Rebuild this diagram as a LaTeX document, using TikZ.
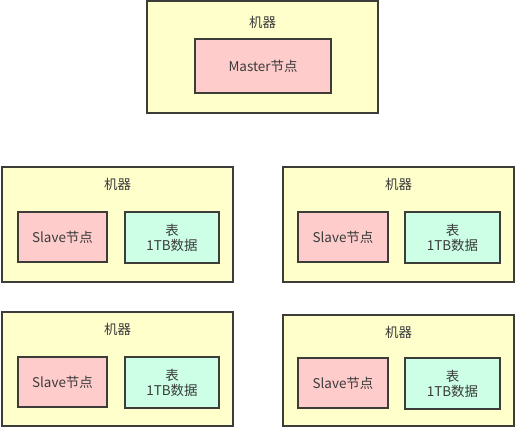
\documentclass[tikz,border=0pt]{standalone}
\usepackage{fontspec}
\setmainfont{Noto Sans CJK SC}
\begin{document}
\begin{tikzpicture}[x=1bp,y=-1bp,
  every node/.style={font=\fontsize{13.5}{15}\selectfont, text=txt, inner sep=0pt, align=center},
  machine/.style={draw=edge, line width=1.6bp, fill=machfill},
  slavebox/.style={draw=edge, line width=1.6bp, fill=slavefill},
  tablebox/.style={draw=edge, line width=1.6bp, fill=tabfill}]
\definecolor{edge}{HTML}{3C3C38}
\definecolor{machfill}{HTML}{FFFFCC}
\definecolor{slavefill}{HTML}{FFCCCC}
\definecolor{tabfill}{HTML}{CCFFE6}
\definecolor{txt}{HTML}{3A3A3A}
\useasboundingbox (0,0) rectangle (516,427);
% top machine
\draw[machine] (147,1) rectangle (378,113);
\node (m0) at (262.5,22) {机器};
\draw[slavebox] (195,39) rectangle (331,93);
\node (master) at (263,66) {Master节点};
% machine row 2 left
\draw[machine] (2,167) rectangle (233,282);
\node (m1) at (117.5,184) {机器};
\draw[slavebox] (18,212) rectangle (107,262);
\node (s1) at (62.5,237) {Slave节点};
\draw[tablebox] (125,212) rectangle (219,263);
\node (t1) at (172,237.5) {表\\[0pt]1TB数据};
% machine row 2 right
\draw[machine] (283,167) rectangle (514,282);
\node (m2) at (398.5,184) {机器};
\draw[slavebox] (298,212) rectangle (388,262);
\node (s2) at (343,237) {Slave节点};
\draw[tablebox] (405,212) rectangle (500,263);
\node (t2) at (452.5,237.5) {表\\[0pt]1TB数据};
% machine row 3 left
\draw[machine] (2,312) rectangle (233,426);
\node (m3) at (117.5,329) {机器};
\draw[slavebox] (18,357) rectangle (107,407);
\node (s3) at (62.5,382) {Slave节点};
\draw[tablebox] (125,357) rectangle (219,408);
\node (t3) at (172,382.5) {表\\[0pt]1TB数据};
% machine row 3 right
\draw[machine] (283,315) rectangle (514,426);
\node (m4) at (398.5,332) {机器};
\draw[slavebox] (298,358) rectangle (388,408);
\node (s4) at (343,383) {Slave节点};
\draw[tablebox] (405,358) rectangle (500,409);
\node (t4) at (452.5,383.5) {表\\[0pt]1TB数据};
\end{tikzpicture}
\end{document}
